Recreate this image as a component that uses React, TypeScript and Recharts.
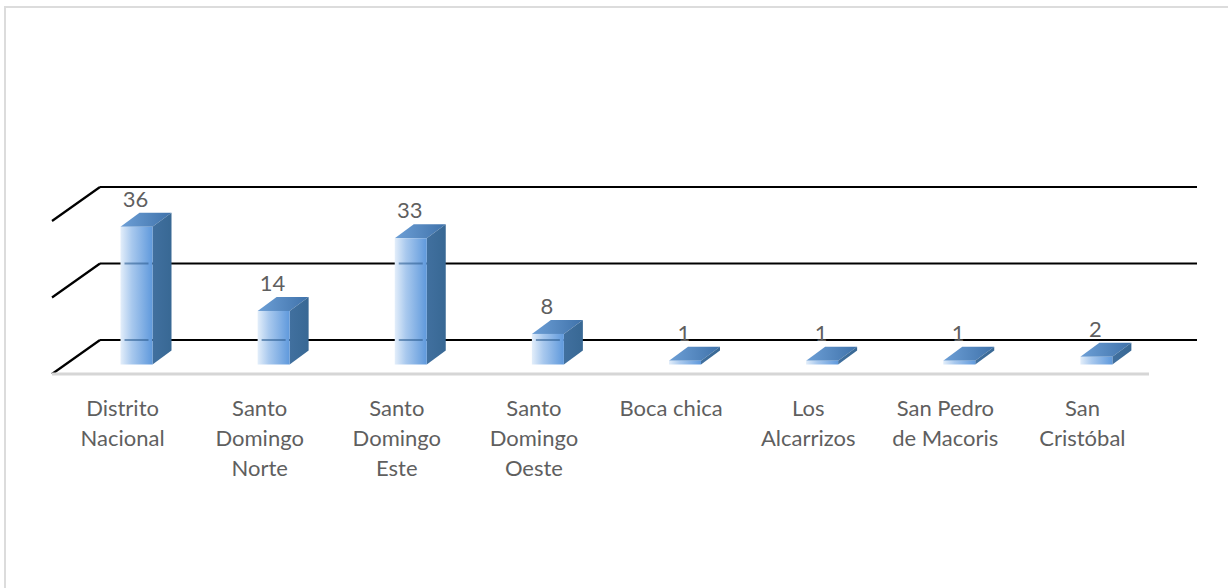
import React from "react";
import {
  Bar,
  BarChart,
  CartesianGrid,
  LabelList,
  ReferenceLine,
  XAxis,
  YAxis,
} from "recharts";

// chart values
const categories = [
  "Distrito Nacional",
  "Santo Domingo Norte",
  "Santo Domingo Este",
  "Santo Domingo Oeste",
  "Boca chica",
  "Los Alcarrizos",
  "San Pedro de Macoris",
  "San Cristóbal",
];
const counts = [36, 14, 33, 8, 1, 1, 1, 2];
const tickLines = [
  ["Distrito", "Nacional"],
  ["Santo", "Domingo", "Norte"],
  ["Santo", "Domingo", "Este"],
  ["Santo", "Domingo", "Oeste"],
  ["Boca chica"],
  ["Los", "Alcarrizos"],
  ["San Pedro", "de Macoris"],
  ["San", "Cristóbal"],
];
const yTicks = [0, 20, 40];

const data = categories.map((name, i) => ({ name, value: counts[i], lines: tickLines[i] }));

const FONT = "Lato, 'Noto Sans', sans-serif";
const TEXT = "#5f5f5f";

// back wall offset of the 3d floor
const WALL_DX = 48;
const WALL_DY = 34;
// where the bars sit inside the floor depth
const PLACE_DX = 15.5;
const PLACE_DY = 9.5;
// bar depth
const BAR_DX = 19;
const BAR_DY = 14;

function GridLine(props: any) {
  const { x1, y1, x2, y2 } = props;
  return (
    <g>
      <line x1={x1} y1={y1} x2={x1 + WALL_DX} y2={y1 - WALL_DY} stroke="#000" strokeWidth={2.2} />
      <line x1={x1 + WALL_DX} y1={y1 - WALL_DY} x2={x2 + WALL_DX} y2={y2 - WALL_DY} stroke="#000" strokeWidth={2.2} />
    </g>
  );
}

function Bar3D(props: any) {
  const { x, y, width, height, value } = props;
  const fx = x + PLACE_DX;
  const fy = y - PLACE_DY;
  const w = width;
  const h = Math.max(height, 1);
  const bottom = fy + h;
  const ppu = value ? height / value : 0;
  // gridlines that show across the front face
  const marks = yTicks
    .map((t) => y + height - t * ppu - WALL_DY)
    .filter((gy) => gy > fy + 2 && gy < bottom - 2);
  return (
    <g>
      <polygon
        points={`${fx},${fy} ${fx + BAR_DX},${fy - BAR_DY} ${fx + w + BAR_DX},${fy - BAR_DY} ${fx + w},${fy}`}
        fill="url(#topFace)"
      />
      <polygon
        points={`${fx + w},${fy} ${fx + w + BAR_DX},${fy - BAR_DY} ${fx + w + BAR_DX},${bottom - BAR_DY} ${fx + w},${bottom}`}
        fill="url(#sideFace)"
      />
      <rect x={fx} y={fy} width={w} height={h} fill="url(#frontFace)" />
      {marks.map((gy, i) => (
        <line key={i} x1={fx + 4} x2={fx + w - 4} y1={gy} y2={gy} stroke="#2f5f92" strokeOpacity={0.6} strokeWidth={2} />
      ))}
    </g>
  );
}

function ValueLabel(props: any) {
  const { x, y, width, value } = props;
  return (
    <text
      x={x + PLACE_DX + width / 2 - 1}
      y={y - PLACE_DY - BAR_DY - 6}
      textAnchor="middle"
      fontFamily={FONT}
      fontSize={22}
      fill={TEXT}
    >
      {value}
    </text>
  );
}

function CategoryTick(props: any) {
  const { x, y, index } = props;
  const lines = tickLines[index] || [];
  return (
    <text x={x + 2} y={y} textAnchor="middle" fontFamily={FONT} fontSize={22} fill={TEXT}>
      {lines.map((ln, i) => (
        <tspan key={i} x={x + 2} y={y + 42 + i * 30}>
          {ln}
        </tspan>
      ))}
    </text>
  );
}

export default function App() {
  return (
    <div
      style={{
        position: "absolute",
        left: 0,
        top: 0,
        width: 1228,
        height: 588,
        overflow: "hidden",
        background: "#fff",
      }}
    >
      <div
        style={{
          position: "absolute",
          left: 4,
          top: 6,
          width: 1400,
          height: 800,
          border: "2px solid #dcdcdc",
        }}
      />
      <BarChart
        width={1228}
        height={588}
        data={data}
        margin={{ top: 221, right: 79, bottom: 114, left: 52 }}
        barSize={32}
        style={{ position: "absolute", left: 0, top: 0 }}
      >
        <defs>
          <linearGradient id="frontFace" x1="0" y1="0" x2="1" y2="0">
            <stop offset="0%" stopColor="#e3eefa" />
            <stop offset="35%" stopColor="#a9c9ee" />
            <stop offset="100%" stopColor="#5f99dc" />
          </linearGradient>
          <linearGradient id="sideFace" x1="0" y1="0" x2="1" y2="0">
            <stop offset="0%" stopColor="#41709f" />
            <stop offset="100%" stopColor="#386894" />
          </linearGradient>
          <linearGradient id="topFace" x1="0" y1="0" x2="1" y2="0">
            <stop offset="0%" stopColor="#6d9fd6" />
            <stop offset="100%" stopColor="#3f72aa" />
          </linearGradient>
        </defs>
        <CartesianGrid vertical={false} horizontal={(p: any) => <GridLine key={p.key} {...p} />} />
        <XAxis
          dataKey="name"
          axisLine={false}
          tickLine={false}
          tickSize={0}
          tickMargin={0}
          height={100}
          interval={0}
          tick={<CategoryTick />}
        />
        <YAxis hide domain={[0, 40]} ticks={yTicks} />
        <ReferenceLine y={0} stroke="#d6d6d6" strokeWidth={3} />
        <Bar dataKey="value" shape={<Bar3D />} isAnimationActive={false}>
          <LabelList dataKey="value" content={<ValueLabel />} />
        </Bar>
      </BarChart>
    </div>
  );
}
